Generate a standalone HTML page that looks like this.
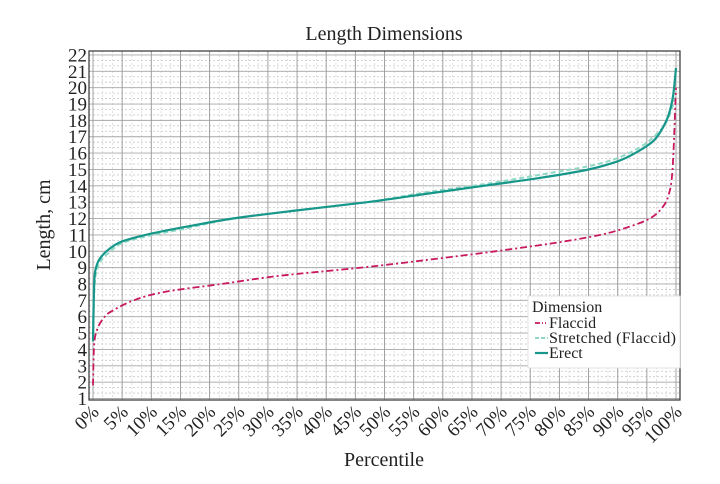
<!DOCTYPE html>
<html><head><meta charset="utf-8"><style>
html,body{margin:0;padding:0;background:#fff;}
svg{display:block;font-family:"Liberation Serif",serif;}
</style></head><body>
<svg id="s" width="720" height="484" xmlns="http://www.w3.org/2000/svg"></svg>
<script>
const s=document.getElementById('s');
const X0=93,X1=676,L=89,R=680,T=51,B=400;
const xp=p=>X0+(X1-X0)*p/100;
const yp=v=>398.5-(v-1)*16.36;
let h='';
h+=`<rect x="${L}" y="${T}" width="${R-L}" height="${B-T}" fill="#fff"/>`;
for(let v=1;v<=22;v+=1/3){const y=yp(v);if(y<T||y>B)continue;
 h+=`<line x1="${L}" x2="${R}" y1="${y}" y2="${y}" stroke="#c8c8c8" stroke-width="0.8" stroke-dasharray="2,2"/>`;}
for(let p=0;p<=100;p+=5/3){h+=`<line x1="${xp(p)}" x2="${xp(p)}" y1="${T}" y2="${B}" stroke="#d8d8d8" stroke-width="0.8" stroke-dasharray="2,2"/>`;}
for(let v=1;v<=22;v++){const y=yp(v);h+=`<line x1="${L}" x2="${R}" y1="${y}" y2="${y}" stroke="#aaa" stroke-width="0.9"/>`;
 h+=`<text x="${L-2}" y="${y+6.5}" font-size="19" text-anchor="end" fill="#222">${v}</text>`;}
for(let p=0;p<=100;p+=5){const x=xp(p);h+=`<line x1="${x}" x2="${x}" y1="${T}" y2="${B}" stroke="#999" stroke-width="0.9"/>`;
 h+=`<text transform="translate(${x+7},${B+13}) rotate(-45)" font-size="19" text-anchor="end" fill="#222">${p}%</text>`;}
h+=`<rect x="${L}" y="${T}" width="${R-L}" height="${B-T}" fill="none" stroke="#333" stroke-width="1.2"/>`;
function cr(pts){const P=pts.map(q=>[xp(q[0]),yp(q[1])]);let d=`M${P[0][0].toFixed(1)},${P[0][1].toFixed(1)}`;
 for(let i=0;i<P.length-1;i++){const p0=P[Math.max(0,i-1)],p1=P[i],p2=P[i+1],p3=P[Math.min(P.length-1,i+2)];
  const c1=[p1[0]+(p2[0]-p0[0])/6,p1[1]+(p2[1]-p0[1])/6],c2=[p2[0]-(p3[0]-p1[0])/6,p2[1]-(p3[1]-p1[1])/6];
  d+=` C${c1[0].toFixed(1)},${c1[1].toFixed(1)} ${c2[0].toFixed(1)},${c2[1].toFixed(1)} ${p2[0].toFixed(1)},${p2[1].toFixed(1)}`;}
 return d;}
const erect=[[0,4.5],[0.2,8],[0.6,9.1],[1.5,9.7],[3,10.2],[5,10.6],[9,11],[16,11.5],[24,12],[35,12.5],[47,13],[57,13.5],[67,14],[77,14.5],[85,15],[90,15.5],[93,16],[96,16.7],[97.5,17.4],[98.7,18.3],[99.5,19.5],[100,21.2]];
const str=[[0,5],[0.3,8],[0.8,9],[1.5,9.5],[3,10],[5,10.5],[9,10.9],[16,11.4],[24,12],[35,12.5],[47,13],[57,13.6],[67,14.1],[77,14.7],[85,15.2],[90,15.7],[94,16.4],[96.5,17.1],[98.5,18],[100,19.5]];
const fl=[[0,1.8],[0.2,4.3],[0.8,5.3],[2,6],[3.5,6.4],[7,7],[12,7.5],[22,8],[32,8.5],[46,9],[58,9.5],[69,10],[79,10.5],[87,11],[92,11.5],[95.5,12],[97.5,12.6],[98.7,13.4],[99.4,15],[100,20]];
h+=`<path d="${cr(str)}" fill="none" stroke="#8fd8c6" stroke-width="2" stroke-dasharray="5,3"/>`;
h+=`<path d="${cr(erect)}" fill="none" stroke="#16978a" stroke-width="2.2"/>`;
h+=`<path d="${cr(fl)}" fill="none" stroke="#c8185e" stroke-width="1.8" stroke-dasharray="7,3,2,3"/>`;
h+=`<rect x="528" y="296" width="152" height="72" fill="#fff" stroke="#ddd" stroke-width="0.8"/>`;
h+=`<text x="532" y="312" font-size="16" fill="#222">Dimension</text>`;
h+=`<line x1="535" x2="546" y1="323" y2="323" stroke="#c8185e" stroke-width="1.8" stroke-dasharray="5,2,1,2"/><text x="549" y="328" font-size="16" fill="#222">Flaccid</text>`;
h+=`<line x1="535" x2="548" y1="338" y2="338" stroke="#8fd8c6" stroke-width="2" stroke-dasharray="4,2"/><text x="549" y="343" font-size="16" fill="#222" textLength="127">Stretched (Flaccid)</text>`;
h+=`<line x1="535" x2="548" y1="353" y2="353" stroke="#16978a" stroke-width="2.2"/><text x="549" y="358" font-size="16" fill="#222">Erect</text>`;
h+=`<text x="384" y="40" font-size="20" text-anchor="middle" fill="#222">Length Dimensions</text>`;
h+=`<text x="384" y="466" font-size="20" text-anchor="middle" fill="#222">Percentile</text>`;
h+=`<text transform="translate(50,225) rotate(-90)" font-size="20" text-anchor="middle" fill="#222">Length, cm</text>`;
s.innerHTML=h;
</script>
</body></html>
